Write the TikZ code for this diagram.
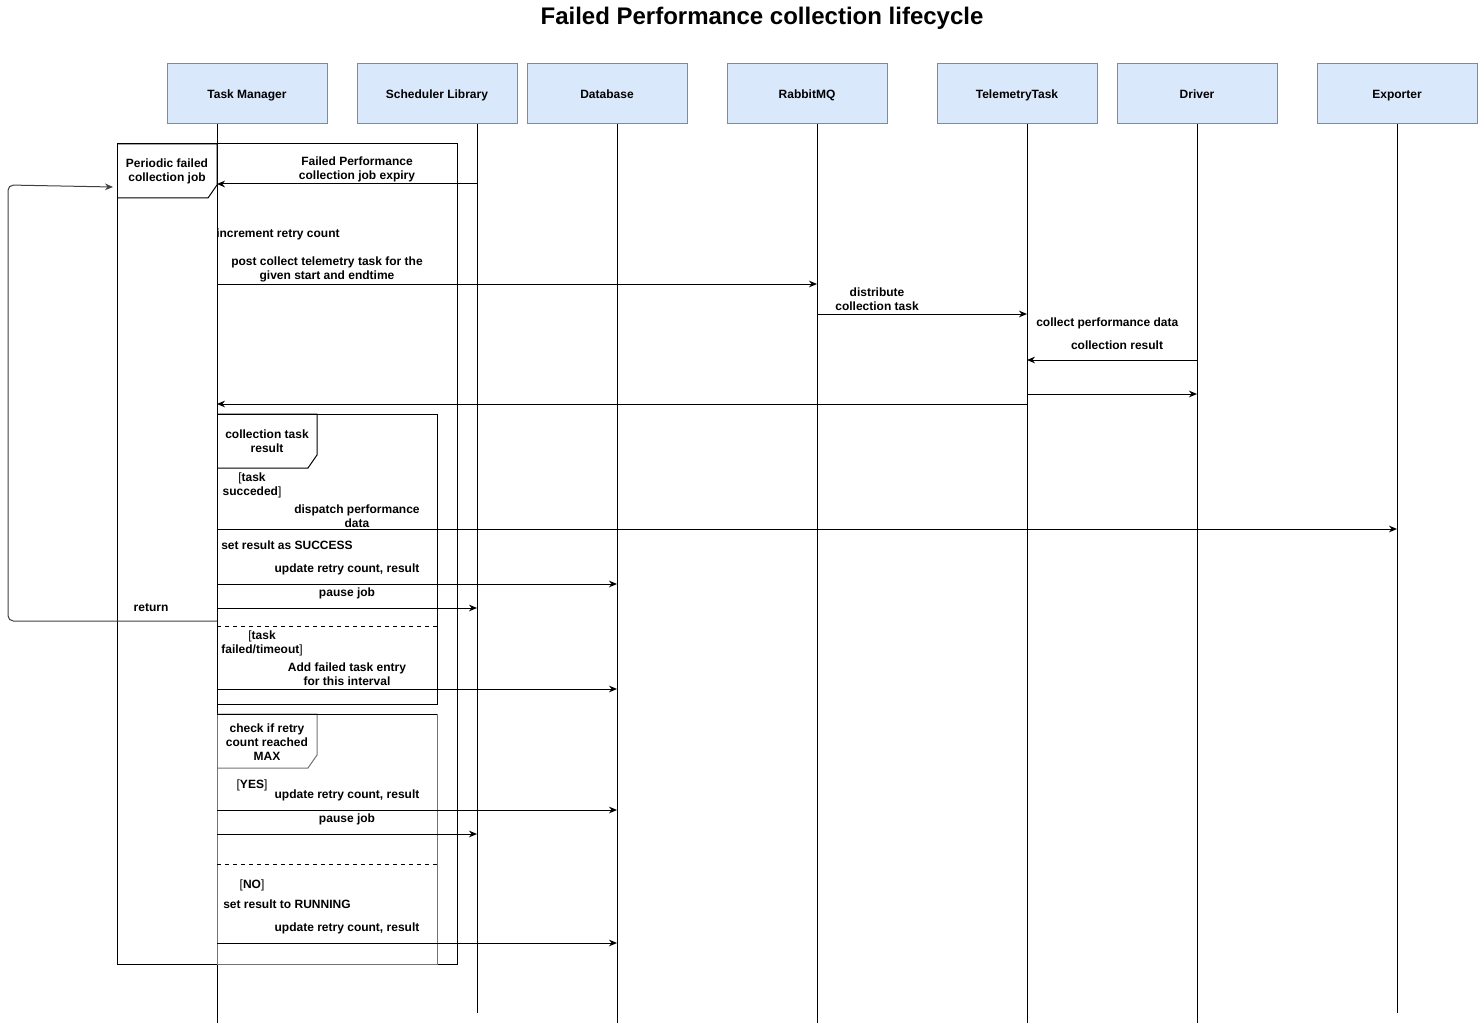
\documentclass[tikz,border=0pt]{standalone}
\usepackage{fontspec}
\setmainfont{Liberation Sans}
\usetikzlibrary{arrows.meta}
\definecolor{hdrfill}{HTML}{DAE8FC}
\definecolor{hdrline}{HTML}{6C8EBF}
\newcommand{\seqfont}{\fontsize{9}{10.5}\selectfont\bfseries}
\newcommand{\grd}[1]{{\mdseries#1}}
\tikzset{
  actor/.style={draw=hdrline, fill=hdrfill, line width=.75pt, minimum width=120pt, minimum height=45pt, inner sep=0pt, text depth=0pt, font=\seqfont},
  life/.style={line width=.75pt},
  msg/.style={line width=.75pt, -{Stealth[length=6pt,width=5pt]}},
  ret/.style={line width=.75pt, draw=black!75, rounded corners=4pt, -{Stealth[length=6pt,width=5pt]}},
  frame/.style={line width=.75pt},
  txt/.style={font=\seqfont, inner sep=0pt, align=center, yshift=-.5pt}
}
\begin{document}
\begin{tikzpicture}[x=.75pt, y=-.75pt]
\useasboundingbox (0,0) rectangle (1478,1027);
\node [font=\fontsize{18}{21}\selectfont\bfseries, inner sep=0pt, text depth=0pt] (title) at (762,16) {Failed Performance collection lifecycle};
% participants
\node [actor] (tm) at (247,94) {Task Manager};
\node [actor] (sch) at (437,94) {Scheduler Library};
\node [actor] (db) at (607,94) {Database};
\node [actor] (rmq) at (807,94) {RabbitMQ};
\node [actor] (tt) at (1017,94) {TelemetryTask};
\node [actor] (drv) at (1197,94) {Driver};
\node [actor] (exp) at (1397,94) {Exporter};
% lifelines
\coordinate (tmL) at (217,124);  \coordinate (tmE) at (217,1023);
\coordinate (schL) at (477,124); \coordinate (schE) at (477,1013);
\coordinate (dbL) at (617,124);  \coordinate (dbE) at (617,1023);
\coordinate (rmqL) at (817,124); \coordinate (rmqE) at (817,1023);
\coordinate (ttL) at (1027,124); \coordinate (ttE) at (1027,1023);
\coordinate (drvL) at (1197,124); \coordinate (drvE) at (1197,1023);
\coordinate (expL) at (1397,124); \coordinate (expE) at (1397,1013);
\foreach \p in {tm,sch,db,rmq,tt,drv,exp}
  \draw [life] (\p L) -- (\p E);
% loop frame
\draw [frame] (117,144) rectangle (457,964);
\draw [frame] (117,144) -- (217,144) -- (217,185) -- (208,198) -- (117,198);
\node [txt] (loopLbl) at (167,171) {Periodic failed\\collection job};
\coordinate (loopIn) at (113,187);
\node [txt] (expiry) at (357,169) {Failed Performance\\collection job expiry};
\draw [msg] (schL |- 0,184) -- (tmL |- 0,184);
\node [txt, anchor=west] (incr) at (216,234) {increment retry count};
\node [txt] (post) at (327,269) {post collect telemetry task for the\\given start and endtime};
\draw [msg] (tmL |- 0,284) -- (rmqL |- 0,284);
\node [txt] (dist) at (877,299) {distribute\\collection task};
\draw [msg] (rmqL |- 0,314) -- (ttL |- 0,314);
\node [txt, anchor=west] (collect) at (1036,323) {collect performance data};
\node [txt] (cres) at (1117,345) {collection result};
\draw [msg] (drvL |- 0,360) -- (ttL |- 0,360);
\draw [msg] (ttL |- 0,394) -- (drvL |- 0,394);
\draw [msg] (ttL |- 0,404) -- (tmL |- 0,404);
% alt: collection task result
\draw [frame] (217,414) rectangle (437,704);
\draw [frame] (217,414) -- (317,414) -- (317,455) -- (308,468) -- (217,468);
\node [txt] (altLbl) at (267,441) {collection task\\result};
\node [txt] (gOk) at (252,485) {\grd{[}task\\succeded\grd{]}};
\node [txt] (disp) at (357,516) {dispatch performance\\data};
\draw [msg] (tmL |- 0,529) -- (expL |- 0,529);
\node [txt, anchor=west] (succ) at (221,545) {set result as SUCCESS};
\node [txt] (upd1) at (347,569) {update retry count, result};
\draw [msg] (tmL |- 0,584) -- (dbL |- 0,584);
\node [txt] (pause1) at (347,593) {pause job};
\draw [msg] (tmL |- 0,608) -- (schL |- 0,608);
\node [txt] (retLbl) at (151,607) {return};
\draw [ret] (tmL |- 0,621) -- (8,621) -- (8,185) -- (loopIn);
\draw [frame, dashed] (217,626) -- (437,626);
\node [txt] (gFail) at (262,643) {\grd{[}task\\failed/timeout\grd{]}};
\node [txt] (addf) at (347,674) {Add failed task entry\\for this interval};
\draw [msg] (tmL |- 0,689) -- (dbL |- 0,689);
% alt: retry count
\draw [frame, draw=black!55] (217,714) rectangle (437,964);
\draw [frame, draw=black!55] (217,714) -- (317,714) -- (317,755) -- (308,768) -- (217,768);
\draw [frame] (217,714) -- (437,714);
\node [txt] (maxLbl) at (267,741) {check if retry\\count reached\\MAX};
\node [txt] (gYes) at (252,785) {\grd{[}YES\grd{]}};
\node [txt] (upd2) at (347,795) {update retry count, result};
\draw [msg] (tmL |- 0,810) -- (dbL |- 0,810);
\node [txt] (pause2) at (347,819) {pause job};
\draw [msg] (tmL |- 0,834) -- (schL |- 0,834);
\draw [frame, dashed] (217,864) -- (437,864);
\node [txt] (gNo) at (252,885) {\grd{[}NO\grd{]}};
\node [txt, anchor=west] (run) at (223,904) {set result to RUNNING};
\node [txt] (upd3) at (347,928) {update retry count, result};
\draw [msg] (tmL |- 0,943) -- (dbL |- 0,943);
\end{tikzpicture}
\end{document}
